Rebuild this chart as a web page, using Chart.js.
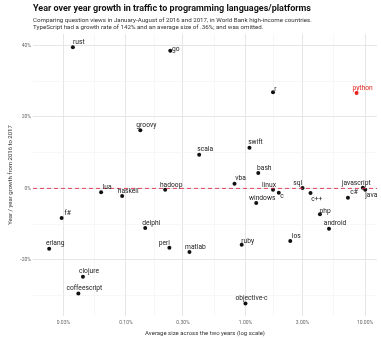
<!DOCTYPE html>
<html>
<head>
<meta charset="utf-8">
<script src="https://cdn.jsdelivr.net/npm/chart.js@4.4.1/dist/chart.umd.min.js"></script>
<style>
  html, body { margin: 0; padding: 0; background: #fff; }
  #growthChart { display: block; }
</style>
</head>
<body>
<canvas id="growthChart" width="381" height="339"></canvas>
<script>
// Languages / platforms and their traffic numbers (both in percent)
const languages = [
  "rust", "go", "r", "python", "groovy", "scala", "swift", "bash", "vba",
  "linux", "sql", "javascript", "java", "c", "c++", "c#", "windows", "php",
  "android", "ios", "ruby", "matlab", "objective-c", "lua", "haskell",
  "hadoop", "f#", "erlang", "delphi", "perl", "clojure", "coffeescript"
];
const avgSize = [
  0.036, 0.235, 1.70, 8.5, 0.132, 0.41, 1.08, 1.28, 0.81,
  1.70, 3.0, 9.6, 10.05, 1.90, 3.5, 7.2, 1.23, 4.2,
  5.0, 2.37, 0.93, 0.34, 1.0, 0.062, 0.093,
  0.213, 0.029, 0.0228, 0.145, 0.231, 0.0437, 0.040
];
const growth = [
  39.5, 38.5, 26.9, 26.7, 16.3, 9.4, 11.4, 4.3, 1.3,
  -0.4, 0.1, 0.2, -0.4, -1.2, -1.3, -2.6, -4.1, -7.2,
  -11.3, -14.7, -15.8, -17.8, -32.2, -1.1, -2.1,
  -0.4, -8.3, -16.9, -11.1, -16.6, -24.7, -29.4
];
const highlighted = ["python"];

// Axis breaks
const xTickValues = [0.03, 0.1, 0.3, 1, 3, 10];
const xTickLabels = ["0.03%", "0.10%", "0.30%", "1.00%", "3.00%", "10.00%"];
const yTickValues = [-20, 0, 20, 40];
const yTickLabels = ["-20%", "0%", "20%", "40%"];

// minor breaks sit halfway between majors (geometric mean on the log axis)
const xMinor = xTickValues.slice(1).map((v, i) => Math.sqrt(v * xTickValues[i]));
const yMinor = yTickValues.slice(1).map((v, i) => (v + yTickValues[i]) / 2).concat([-30]);

// where each label sits relative to its dot: [dx of text centre, dy]
const labelNudge = {
  go: [5.5, -1.5], r: [2.5, -3], linux: [-4, -5], sql: [-4.7, -4.3],
  javascript: [-6.7, -4.7], java: [6, 5], c: [3.3, 3.3], "c++": [6.3, 6],
  php: [5.2, -3.3], ruby: [6, -4], perl: [-5, -4.7]
};
const defaultNudge = [6, -5];

const FONT = "Roboto, 'Noto Sans', sans-serif";
const RED = "#e8231f";

const points = languages.map((name, i) => ({ x: avgSize[i], y: growth[i], name }));

const gridColor = (ctx, majors) => {
  if (!ctx.tick) return "rgba(0,0,0,0)";
  return majors.includes(ctx.tick.value) ? "#e3e3e3" : "#f1f1f1";
};

// dashed reference line at zero growth
const zeroLine = {
  id: "zeroLine",
  afterDatasetsDraw(chart) {
    const { ctx, chartArea, scales } = chart;
    const y = scales.y.getPixelForValue(0);
    ctx.save();
    ctx.strokeStyle = "rgba(226,40,70,0.85)";
    ctx.lineWidth = 1;
    ctx.setLineDash([4, 3]);
    ctx.beginPath();
    ctx.moveTo(chartArea.left, y);
    ctx.lineTo(chartArea.right, y);
    ctx.stroke();
    ctx.restore();
  }
};

// text label next to every point
const pointLabels = {
  id: "pointLabels",
  afterDatasetsDraw(chart) {
    const { ctx } = chart;
    const meta = chart.getDatasetMeta(0);
    ctx.save();
    ctx.font = "6.7px " + FONT;
    ctx.textAlign = "center";
    ctx.textBaseline = "middle";
    meta.data.forEach((el, i) => {
      const name = languages[i];
      const [dx, dy] = labelNudge[name] || defaultNudge;
      ctx.fillStyle = highlighted.includes(name) ? RED : "#222";
      ctx.fillText(name, el.x + dx, el.y + dy);
    });
    ctx.restore();
  }
};

new Chart(document.getElementById("growthChart"), {
  type: "scatter",
  data: {
    datasets: [
      {
        data: points,
        pointRadius: 2,
        pointBorderWidth: 0,
        pointBackgroundColor: points.map((p) => (highlighted.includes(p.name) ? RED : "#111")),
      },
    ],
  },
  options: {
    responsive: false,
    animation: false,
    devicePixelRatio: 1,
    layout: { padding: 0 },
    plugins: {
      legend: { display: false },
      tooltip: { enabled: false },
      title: {
        display: true,
        text: "Year over year growth in traffic to programming languages/platforms",
        align: "start",
        fullSize: false,
        color: "#111",
        font: { family: FONT, size: 9, weight: "bold" },
        padding: { top: 3.1, bottom: 1 },
      },
      subtitle: {
        display: true,
        text: [
          "Comparing question views in January-August of 2016 and 2017, in World Bank high-income countries.",
          "TypeScript had a growth rate of 142% and an average size of .36%; and was omitted.",
        ],
        align: "start",
        fullSize: false,
        color: "#333",
        font: { family: FONT, size: 6.2, lineHeight: "6.5px" },
        padding: { top: 2.35, bottom: 3.75 },
      },
    },
    scales: {
      x: {
        type: "logarithmic",
        min: 0.0167,
        max: 12.6,
        afterBuildTicks: (scale) => {
          scale.ticks = xTickValues.concat(xMinor).sort((a, b) => a - b).map((v) => ({ value: v }));
        },
        afterFit: (scale) => { scale.height = 23; },
        ticks: {
          autoSkip: false,
          maxRotation: 0,
          padding: 3.5,
          color: "#666",
          font: { family: FONT, size: 5 },
          callback: (v) => {
            const k = xTickValues.indexOf(v);
            return k >= 0 ? xTickLabels[k] : "";
          },
        },
        grid: {
          drawTicks: false,
          color: (ctx) => gridColor(ctx, xTickValues),
          lineWidth: (ctx) => (ctx.tick && xTickValues.includes(ctx.tick.value) ? 0.9 : 0.6),
        },
        border: { display: false },
        title: {
          display: true,
          text: "Average size across the two years (log scale)",
          color: "#333",
          font: { family: FONT, size: 6 },
          padding: { top: 0, bottom: 2.4 },
        },
      },
      y: {
        min: -35.7,
        max: 43.2,
        afterBuildTicks: (scale) => {
          scale.ticks = yTickValues.concat(yMinor).sort((a, b) => a - b).map((v) => ({ value: v }));
        },
        afterFit: (scale) => { scale.width = 33; },
        ticks: {
          padding: 2,
          color: "#666",
          font: { family: FONT, size: 5 },
          callback: (v) => {
            const k = yTickValues.indexOf(v);
            return k >= 0 ? yTickLabels[k] : "";
          },
        },
        grid: {
          drawTicks: false,
          color: (ctx) => gridColor(ctx, yTickValues),
          lineWidth: (ctx) => (ctx.tick && yTickValues.includes(ctx.tick.value) ? 0.9 : 0.6),
        },
        border: { display: false },
        title: {
          display: true,
          text: "Year / year growth from 2016 to 2017",
          color: "#333",
          font: { family: FONT, size: 6 },
          padding: { top: 6.4, bottom: 0 },
        },
      },
    },
  },
  plugins: [zeroLine, pointLabels],
});
</script>
</body>
</html>
